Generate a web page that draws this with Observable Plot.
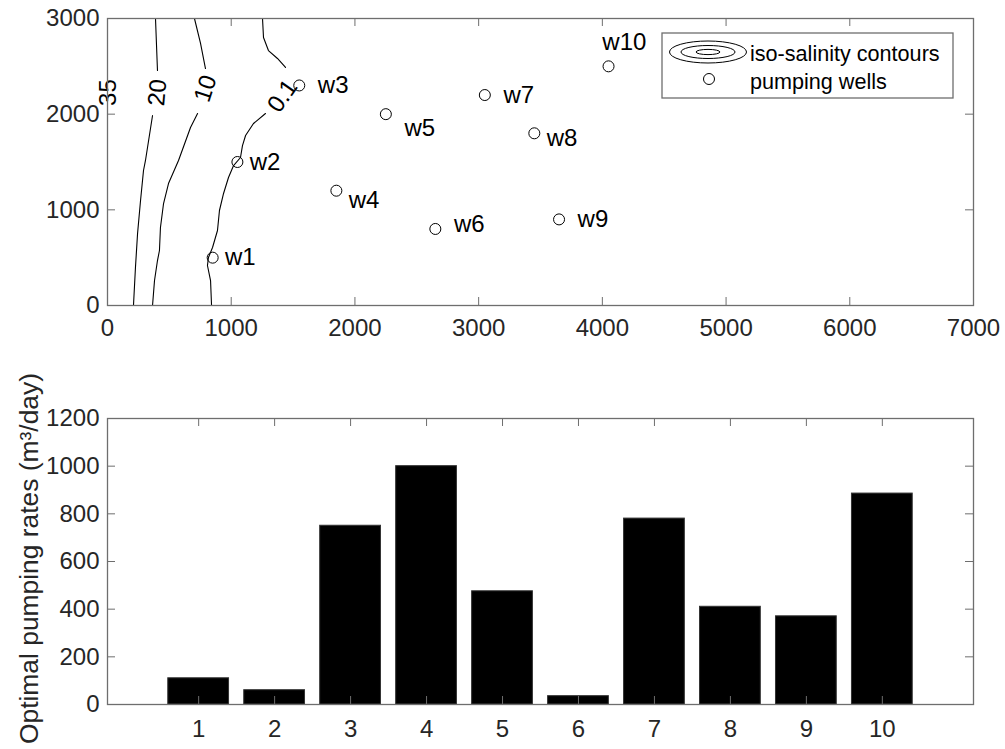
<!DOCTYPE html>
<html><head><meta charset="utf-8">
<script src="https://cdn.jsdelivr.net/npm/d3@7"></script>
<script src="https://cdn.jsdelivr.net/npm/@observablehq/plot@0.6"></script>
<style>
body{margin:0;background:#fff;}
#wrap{position:relative;width:1005px;height:749px;font-family:"Liberation Sans",Arial,sans-serif;background:#fff;}
#wrap > svg{display:block}
#legend{position:absolute;left:0;top:0;pointer-events:none}
</style></head><body><div id="wrap"></div>
<script>
// ---------- data: top panel ----------
const wellNames = ["w1","w2","w3","w4","w5","w6","w7","w8","w9","w10"];
const wellX = [850,1050,1550,1850,2250,2650,3050,3450,3650,4050];
const wellY = [500,1500,2300,1200,2000,800,2200,1800,900,2500];
const wellLabelX = [950,1150,1700,1950,2400,2800,3200,3550,3800,4000];
const wellLabelY = [500,1500,2300,1100,1850,850,2200,1750,900,2750];

// iso-salinity contours (each broken where its label sits)
const contour20Upper = [[388,3000],[404,2456]];
const contour20Lower = [[364,1986],[307,1516],[291,1411],[267,1098],[243,753],[226,397],[210,0]];
const contour10Upper = [[703,3000],[752,2739],[792,2477]];
const contour10Lower = [[728,2007],[671,1861],[574,1516],[493,1275],[453,1066],[428,815],[420,575],[404,470],[380,261],[364,0]];
const contour01Upper = [[1253,3000],[1261,2801],[1301,2665],[1374,2582],[1439,2488]];
const contour01Lower = [[1277,2007],[1180,1902],[1116,1777],[1091,1672],[1075,1547],[1019,1463],[978,1338],[938,1171],[905,993],[889,784],[849,606],[816,502],[808,418],[833,261],[841,0]];

const contourLabels = ["35","20","10","0.1"];
const contourLabelX = [8,404,792,1415];
const contourLabelY = [2226,2226,2268,2190];
const contourLabelAngle = [-90,-85,-72,-55];

const xTicksTop = [0,1000,2000,3000,4000,5000,6000,7000];
const yTicksTop = [0,1000,2000,3000];

// ---------- data: bottom panel ----------
const wellIndex = [1,2,3,4,5,6,7,8,9,10];
const pumpingRates = [110,60,750,1000,475,35,780,410,370,885];
const yTicksBottom = [0,200,400,600,800,1000,1200];
const yLabelBottom = "Optimal pumping rates (m³/day)";

const legendItems = ["iso-salinity contours","pumping wells"];

// ---------- build tables ----------
const segs = [["20a",contour20Upper],["20b",contour20Lower],["10a",contour10Upper],["10b",contour10Lower],["01a",contour01Upper],["01b",contour01Lower]];
const contourRows = segs.flatMap(([id,pts]) => pts.map(([x,y]) => ({seg:id,x,y})));
const wells = wellNames.map((n,i) => ({name:n,x:wellX[i],y:wellY[i],lx:wellLabelX[i],ly:wellLabelY[i]}));
const clabels = contourLabels.map((t,i) => ({t,x:contourLabelX[i],y:contourLabelY[i],a:contourLabelAngle[i]}));
const bars = wellIndex.map((k,i) => ({k,v:pumpingRates[i]}));

const FONT = "Liberation Sans, Arial, sans-serif";
const AX = "#6e6e6e";
const TICK = 8;

function boxTicks(xt, yt, plotW, plotH) {
  return [
    Plot.ruleX(xt, {x: d => d, insetTop: plotH - TICK, stroke: AX}),
    Plot.ruleX(xt, {x: d => d, insetBottom: plotH - TICK, stroke: AX}),
    Plot.ruleY(yt, {y: d => d, insetRight: plotW - TICK, stroke: AX}),
    Plot.ruleY(yt, {y: d => d, insetLeft: plotW - TICK, stroke: AX})
  ];
}

const W = 1005, ML = 107, MR = 32;
const topH = 350, topMT = 18, topMB = 45;
const topPlot = Plot.plot({
  width: W, height: topH,
  marginLeft: ML, marginRight: MR, marginTop: topMT, marginBottom: topMB,
  style: {fontFamily: FONT, fontSize: "24px", color: "#262626", background: "white"},
  x: {domain: [0, 7000]},
  y: {domain: [0, 3000]},
  marks: [
    Plot.line(contourRows, {x: "x", y: "y", z: "seg", stroke: "black", strokeWidth: 1.1}),
    Plot.text(clabels, {x: "x", y: "y", text: "t", rotate: "a", fontSize: 24, fill: "black"}),
    Plot.dot(wells, {x: "x", y: "y", r: 5.5, stroke: "black", strokeWidth: 1, fill: "none"}),
    Plot.text(wells, {x: "lx", y: "ly", text: "name", textAnchor: "start", fontSize: 24, fill: "black"}),
    ...boxTicks(xTicksTop, yTicksTop, W - ML - MR, topH - topMT - topMB),
    Plot.frame({stroke: AX, strokeWidth: 1.3}),
    Plot.axisX(xTicksTop, {tickSize: 0, tickPadding: 13, label: null, tickFormat: d => String(d)}),
    Plot.axisY(yTicksTop, {tickSize: 0, tickPadding: 8, label: null, tickFormat: d => String(d)})
  ]
});

const botH = 399, botMT = 68, botMB = 45;
const botPlot = Plot.plot({
  width: W, height: botH,
  marginLeft: ML, marginRight: MR, marginTop: botMT, marginBottom: botMB,
  style: {fontFamily: FONT, fontSize: "24px", color: "#262626", background: "white"},
  x: {domain: [-0.2, 11.2]},
  y: {domain: [0, 1200]},
  marks: [
    Plot.rectY(bars, {x1: d => d.k - 0.4, x2: d => d.k + 0.4, y: "v", fill: "black", stroke: "#333", strokeWidth: 1}),
    ...boxTicks(wellIndex, yTicksBottom, W - ML - MR, botH - botMT - botMB),
    Plot.frame({stroke: AX, strokeWidth: 1.3}),
    Plot.axisX(wellIndex, {tickSize: 0, tickPadding: 15, label: null, tickFormat: d => String(d)}),
    Plot.axisY(yTicksBottom, {tickSize: 0, tickPadding: 8, label: null, tickFormat: d => String(d)}),
    Plot.text([yLabelBottom], {text: d => d, frameAnchor: "left", textAnchor: "middle", dx: -78, dy: -3, rotate: -90, fontSize: 26.4, fill: "#262626"})
  ]
});

const wrap = document.getElementById("wrap");
wrap.appendChild(topPlot);
wrap.appendChild(botPlot);

// ---------- legend (overlay) ----------
const leg = d3.select(wrap).append("svg").attr("id","legend").attr("width",W).attr("height",topH);
leg.append("rect").attr("x",662).attr("y",33).attr("width",291).attr("height",65)
  .attr("fill","white").attr("stroke",AX).attr("stroke-width",1.3);
const ell = [[38.5,11],[27,6.5],[12,2.6]];
leg.selectAll("ellipse").data(ell).join("ellipse")
  .attr("cx",708).attr("cy",52).attr("rx",d=>d[0]).attr("ry",d=>d[1])
  .attr("fill","none").attr("stroke","black").attr("stroke-width",1);
leg.append("circle").attr("cx",709).attr("cy",79).attr("r",5.5).attr("fill","none").attr("stroke","black");
leg.selectAll("text").data(legendItems).join("text")
  .attr("x",750).attr("y",(d,i)=>53+i*28).attr("dy","0.35em")
  .attr("font-family",FONT).attr("font-size",21.6).attr("fill","black").text(d=>d);
</script></body></html>
